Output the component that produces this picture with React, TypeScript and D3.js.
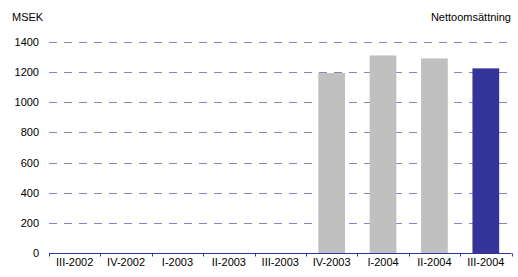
import React, { useLayoutEffect, useRef } from 'react';
import * as d3 from 'd3';

const categories = [
  'III-2002', 'IV-2002', 'I-2003', 'II-2003', 'III-2003',
  'IV-2003', 'I-2004', 'II-2004', 'III-2004',
];
const values = [0, 0, 0, 0, 0, 1194, 1311, 1291, 1225];
const yTicks = [0, 200, 400, 600, 800, 1000, 1200, 1400];

const width = 518;
const height = 277;
const margin = { top: 42, right: 6.5, bottom: 24, left: 49 };

const chart = (container: HTMLDivElement) => {
  const svg = d3
    .select(container)
    .append('svg')
    .attr('width', width)
    .attr('height', height)
    .style('display', 'block')
    .style('font-family', '"Liberation Sans", Arial, sans-serif');

  const chartWidth = width - margin.left - margin.right;
  const chartHeight = height - margin.top - margin.bottom;

  const xScale = d3
    .scaleBand()
    .range([margin.left, margin.left + chartWidth])
    .domain(categories)
    .paddingInner(0.48)
    .paddingOuter(0.24);
  const yScale = d3
    .scaleLinear()
    .range([margin.top + chartHeight, margin.top])
    .domain([0, 1400]);

  // dashed gridlines
  svg
    .append('g')
    .selectAll('line')
    .data(yTicks.filter((t) => t > 0))
    .enter()
    .append('line')
    .attr('x1', margin.left)
    .attr('x2', margin.left + chartWidth)
    .attr('y1', (d) => Math.round(yScale(d)) + 0.5)
    .attr('y2', (d) => Math.round(yScale(d)) + 0.5)
    .attr('stroke', '#333399')
    .attr('stroke-opacity', 0.6)
    .attr('stroke-dasharray', '8,7');

  // y labels
  svg
    .append('g')
    .selectAll('text')
    .data(yTicks)
    .enter()
    .append('text')
    .attr('x', 39)
    .attr('y', (d) => yScale(d) + 4)
    .attr('text-anchor', 'end')
    .attr('font-size', 11)
    .attr('fill', '#000')
    .text((d) => d);

  // bars
  svg
    .append('g')
    .selectAll('rect')
    .data(values)
    .enter()
    .append('rect')
    .attr('x', (_d, i) => xScale(categories[i]) || 0)
    .attr('y', (d) => yScale(d))
    .attr('width', xScale.bandwidth())
    .attr('height', (d) => yScale(0) - yScale(d))
    .attr('fill', (_d, i) => (i === values.length - 1 ? '#333399' : '#C0C0C0'));

  // x axis
  const step = xScale.step();
  const baseY = Math.round(yScale(0)) + 0.5;
  const axis = svg.append('g');
  axis
    .append('line')
    .attr('x1', margin.left)
    .attr('x2', margin.left + chartWidth)
    .attr('y1', baseY)
    .attr('y2', baseY)
    .attr('stroke', '#333399');
  axis
    .selectAll('line.tick')
    .data(d3.range(categories.length + 1))
    .enter()
    .append('line')
    .classed('tick', true)
    .attr('x1', (i) => Math.round(margin.left + i * step) + 0.5)
    .attr('x2', (i) => Math.round(margin.left + i * step) + 0.5)
    .attr('y1', baseY)
    .attr('y2', baseY + 3)
    .attr('stroke', '#333399');
  axis
    .selectAll('text')
    .data(categories)
    .enter()
    .append('text')
    .attr('x', (d) => (xScale(d) || 0) + xScale.bandwidth() / 2)
    .attr('y', 266)
    .attr('text-anchor', 'middle')
    .attr('font-size', 11)
    .attr('fill', '#000')
    .text((d) => d);

  svg
    .append('text')
    .attr('x', 12)
    .attr('y', 21)
    .attr('font-size', 11)
    .text('MSEK');
  svg
    .append('text')
    .attr('x', 511)
    .attr('y', 21)
    .attr('text-anchor', 'end')
    .attr('font-size', 11)
    .text('Nettoomsättning');
};

export default function App() {
  const rootEl = useRef<HTMLDivElement>(null);

  useLayoutEffect(() => {
    if (rootEl.current) {
      rootEl.current.innerHTML = '';
      chart(rootEl.current);
    }
  }, []);

  return <div ref={rootEl} style={{ position: 'absolute', left: 0, top: 0 }} />;
}
